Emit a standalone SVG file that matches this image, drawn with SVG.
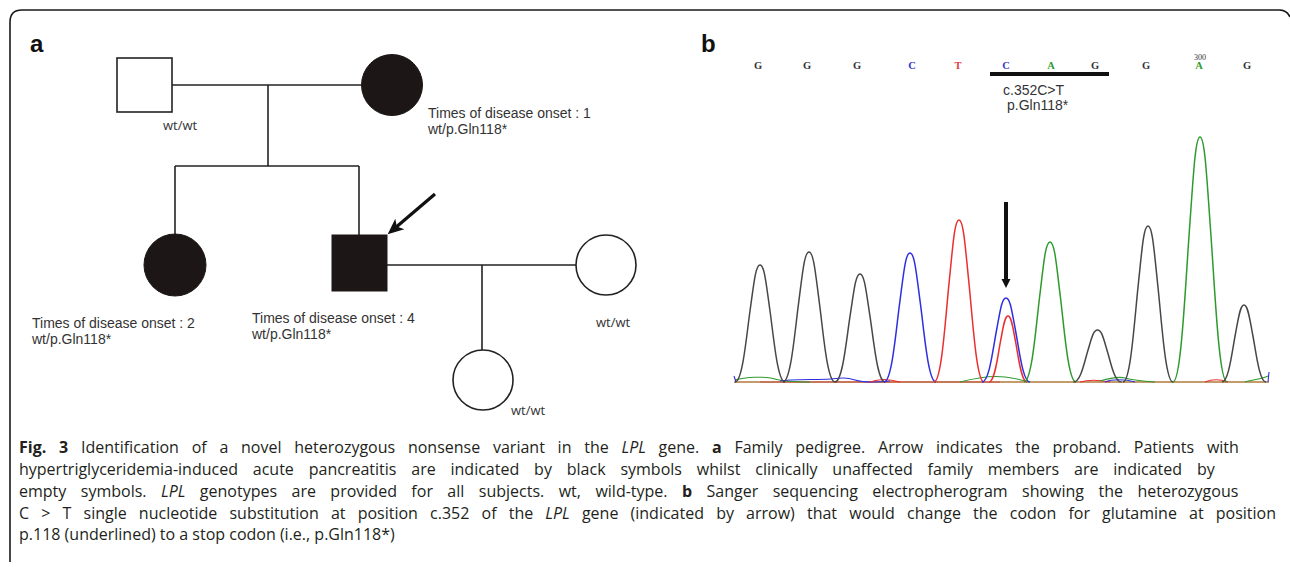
<svg xmlns="http://www.w3.org/2000/svg" width="1290" height="567" viewBox="0 0 1290 567">
<style>
.ln{stroke:#222;stroke-width:1.6;fill:none}
.open{fill:#fff;stroke:#222;stroke-width:1.6}
.fill{fill:#1c1616;stroke:#1c1616;stroke-width:1}
.lab{font-family:"Liberation Sans",Arial,sans-serif;font-size:14px;fill:#333}
.wt{font-family:"Open Sans","Noto Sans",sans-serif;font-size:13px;fill:#333}
.pl{font-family:"Liberation Sans",Arial,sans-serif;font-size:24px;font-weight:bold;fill:#111}
.seq{font-family:"Liberation Serif","Times New Roman",serif;font-size:10.5px;font-weight:bold;text-anchor:middle}
.cap{font-family:"Open Sans","Noto Sans",sans-serif;font-size:16px;fill:#231f20}
.pk{fill:none;stroke-width:1.5;vector-effect:non-scaling-stroke;stroke-linejoin:round}
.k{stroke:#474747}.b{stroke:#2f2fe0}.r{stroke:#ea2f2f}.g{stroke:#2e9a2e}
.nz{fill:none;stroke-width:1.1}
</style>
<defs>
<marker id="barb" viewBox="-12 -10 24 20" markerWidth="24" markerHeight="20" refX="0" refY="0" orient="auto" markerUnits="userSpaceOnUse">
<path d="M9,0 L-7,-7 L-3,0 L-7,7 Z" fill="#111"/>
</marker>
</defs>
<rect width="1290" height="567" fill="#fff"/>
<path d="M10,562 V22 Q10,10 22,10 H1279 Q1287,10 1290,17" fill="none" stroke="#1a1a1a" stroke-width="1.6"/>

<text class="pl" x="30" y="52">a</text>
<text class="pl" x="701" y="52">b</text>

<g id="connectors">
<path class="ln" d="M172,85 H361"/>
<path class="ln" d="M268,85 V166"/>
<path class="ln" d="M175,166 H359"/>
<path class="ln" d="M175,166 V234"/>
<path class="ln" d="M359,166 V235"/>
<path class="ln" d="M387,265 H576"/>
<path class="ln" d="M482,265 V350"/>
<line x1="435" y1="194" x2="394.5" y2="228.5" stroke="#111" stroke-width="3.2" marker-end="url(#barb)"/>
</g>

<g id="father">
<rect class="open" x="117" y="58" width="55" height="54"/>
<text class="wt" x="163" y="130">wt/wt</text>
</g>
<g id="mother">
<circle class="fill" cx="392" cy="85" r="30.5"/>
<text class="lab" x="428" y="118">Times of disease onset : 1</text>
<text class="lab" x="428" y="134">wt/p.Gln118*</text>
</g>
<g id="daughter">
<circle class="fill" cx="175" cy="265" r="31"/>
<text class="lab" x="32" y="328">Times of disease onset : 2</text>
<text class="lab" x="32" y="344">wt/p.Gln118*</text>
</g>
<g id="proband">
<rect class="fill" x="332" y="235" width="55" height="56"/>
<text class="lab" x="252" y="323">Times of disease onset : 4</text>
<text class="lab" x="252" y="339">wt/p.Gln118*</text>
</g>
<g id="spouse">
<circle class="open" cx="606" cy="265" r="30"/>
<text class="wt" x="596" y="327">wt/wt</text>
</g>
<g id="child">
<circle class="open" cx="483" cy="380" r="30"/>
<text class="wt" x="511" y="415">wt/wt</text>
</g>

<g id="sequence">
<text class="seq" x="758" y="69" fill="#333">G</text>
<text class="seq" x="807" y="69" fill="#333">G</text>
<text class="seq" x="857" y="69" fill="#333">G</text>
<text class="seq" x="912" y="69" fill="#3434d0">C</text>
<text class="seq" x="958" y="69" fill="#e03a3a">T</text>
<text class="seq" x="1006" y="69" fill="#3434d0">C</text>
<text class="seq" x="1051" y="69" fill="#2e9a2e">A</text>
<text class="seq" x="1095" y="69" fill="#333">G</text>
<text class="seq" x="1146" y="69" fill="#333">G</text>
<text class="seq" x="1199" y="69" fill="#2e9a2e">A</text>
<text class="seq" x="1247" y="69" fill="#333">G</text>
<text class="seq" x="1200" y="60" fill="#333" style="font-size:8px;font-weight:normal">300</text>
<rect x="990" y="72" width="119" height="4" fill="#111"/>
<text class="lab" x="1003" y="95">c.352C&gt;T</text>
<text class="lab" x="1007" y="110">p.Gln118*</text>
</g>

<g id="chromatogram">
<path d="M734,382 H1269" stroke="#b07a3a" stroke-width="1.6"/>
<path d="M760,382 H1000" stroke="#d04040" stroke-width="0.8"/>
<path class="nz g" d="M735,380 C745,377 765,376 775,379 S800,382 810,382"/>
<path class="nz b" d="M780,381 C790,379 820,380 830,379 S845,377 855,380 S880,382 890,381"/>
<path class="nz r" d="M870,382 C880,378 890,379 900,382"/>
<path class="nz g" d="M960,382 C975,378 990,375 1005,377 S1020,380 1030,382"/>
<path class="nz r" d="M1080,382 C1090,379 1100,380 1110,382"/>
<path class="nz g" d="M1100,381 C1110,378 1118,376 1125,378 S1140,381 1155,382"/>
<path class="nz b" d="M1105,382 C1112,379 1125,379 1135,382"/>
<path class="nz r" d="M1205,382 C1212,379 1220,379 1228,382"/>
<path class="nz g" d="M1245,382 C1252,380 1262,379 1268,376"/>
<path class="nz b" d="M734,376 L736,382 M1268,382 L1269,372"/>
<path class="pk k" transform="translate(760,382) scale(25,117)" d="M-1,0 c0.3,0 0.45,-0.38 0.6,-0.607 c0.15,-0.227 0.22,-0.393 0.4,-0.393 c0.18,0 0.25,0.166 0.4,0.393 c0.15,0.227 0.3,0.607 0.6,0.607"/>
<path class="pk k" transform="translate(809,382) scale(26,130)" d="M-1,0 c0.3,0 0.45,-0.38 0.6,-0.607 c0.15,-0.227 0.22,-0.393 0.4,-0.393 c0.18,0 0.25,0.166 0.4,0.393 c0.15,0.227 0.3,0.607 0.6,0.607"/>
<path class="pk k" transform="translate(860,382) scale(25,108)" d="M-1,0 c0.3,0 0.45,-0.38 0.6,-0.607 c0.15,-0.227 0.22,-0.393 0.4,-0.393 c0.18,0 0.25,0.166 0.4,0.393 c0.15,0.227 0.3,0.607 0.6,0.607"/>
<path class="pk b" transform="translate(910,382) scale(26,129)" d="M-1,0 c0.3,0 0.45,-0.38 0.6,-0.607 c0.15,-0.227 0.22,-0.393 0.4,-0.393 c0.18,0 0.25,0.166 0.4,0.393 c0.15,0.227 0.3,0.607 0.6,0.607"/>
<path class="pk r" transform="translate(959,382) scale(25,162)" d="M-1,0 c0.3,0 0.45,-0.38 0.6,-0.607 c0.15,-0.227 0.22,-0.393 0.4,-0.393 c0.18,0 0.25,0.166 0.4,0.393 c0.15,0.227 0.3,0.607 0.6,0.607"/>
<path class="pk r" transform="translate(1008,382) scale(19,66)" d="M-1,0 c0.3,0 0.45,-0.38 0.6,-0.607 c0.15,-0.227 0.22,-0.393 0.4,-0.393 c0.18,0 0.25,0.166 0.4,0.393 c0.15,0.227 0.3,0.607 0.6,0.607"/>
<path class="pk b" transform="translate(1006,382) scale(24,84)" d="M-1,0 c0.3,0 0.45,-0.38 0.6,-0.607 c0.15,-0.227 0.22,-0.393 0.4,-0.393 c0.18,0 0.25,0.166 0.4,0.393 c0.15,0.227 0.3,0.607 0.6,0.607"/>
<path class="pk g" transform="translate(1050,382) scale(26,140)" d="M-1,0 c0.3,0 0.45,-0.38 0.6,-0.607 c0.15,-0.227 0.22,-0.393 0.4,-0.393 c0.18,0 0.25,0.166 0.4,0.393 c0.15,0.227 0.3,0.607 0.6,0.607"/>
<path class="pk k" transform="translate(1097.5,382) scale(24,52)" d="M-1,0 c0.3,0 0.45,-0.38 0.6,-0.607 c0.15,-0.227 0.22,-0.393 0.4,-0.393 c0.18,0 0.25,0.166 0.4,0.393 c0.15,0.227 0.3,0.607 0.6,0.607"/>
<path class="pk k" transform="translate(1148,382) scale(25,156)" d="M-1,0 c0.3,0 0.45,-0.38 0.6,-0.607 c0.15,-0.227 0.22,-0.393 0.4,-0.393 c0.18,0 0.25,0.166 0.4,0.393 c0.15,0.227 0.3,0.607 0.6,0.607"/>
<path class="pk g" transform="translate(1200,382) scale(27,245)" d="M-1,0 c0.3,0 0.45,-0.38 0.6,-0.607 c0.15,-0.227 0.22,-0.393 0.4,-0.393 c0.18,0 0.25,0.166 0.4,0.393 c0.15,0.227 0.3,0.607 0.6,0.607"/>
<path class="pk k" transform="translate(1244,382) scale(22,77)" d="M-1,0 c0.3,0 0.45,-0.38 0.6,-0.607 c0.15,-0.227 0.22,-0.393 0.4,-0.393 c0.18,0 0.25,0.166 0.4,0.393 c0.15,0.227 0.3,0.607 0.6,0.607"/>
<path d="M1006,202 V280" stroke="#111" stroke-width="4"/>
<path d="M1001.5,279 L1010.5,279 L1006,288 Z" fill="#111"/>
</g>

<g id="caption">
<text class="cap" x="19" y="453" style="word-spacing:8.6px"><tspan font-weight="bold">Fig. 3</tspan> Identification of a novel heterozygous nonsense variant in the <tspan font-style="italic">LPL</tspan> gene. <tspan font-weight="bold">a</tspan> Family pedigree. Arrow indicates the proband. Patients with</text>
<text class="cap" x="19" y="475" style="word-spacing:10.7px">hypertriglyceridemia-induced acute pancreatitis are indicated by black symbols whilst clinically unaffected family members are indicated by</text>
<text class="cap" x="19" y="497" style="word-spacing:10.3px">empty symbols. <tspan font-style="italic">LPL</tspan> genotypes are provided for all subjects. wt, wild-type. <tspan font-weight="bold">b</tspan> Sanger sequencing electropherogram showing the heterozygous</text>
<text class="cap" x="19" y="519" style="word-spacing:8px">C &gt; T single nucleotide substitution at position c.352 of the <tspan font-style="italic">LPL</tspan> gene (indicated by arrow) that would change the codon for glutamine at position</text>
<text class="cap" x="19" y="540">p.118 (underlined) to a stop codon (i.e., p.Gln118*)</text>
</g>
</svg>
